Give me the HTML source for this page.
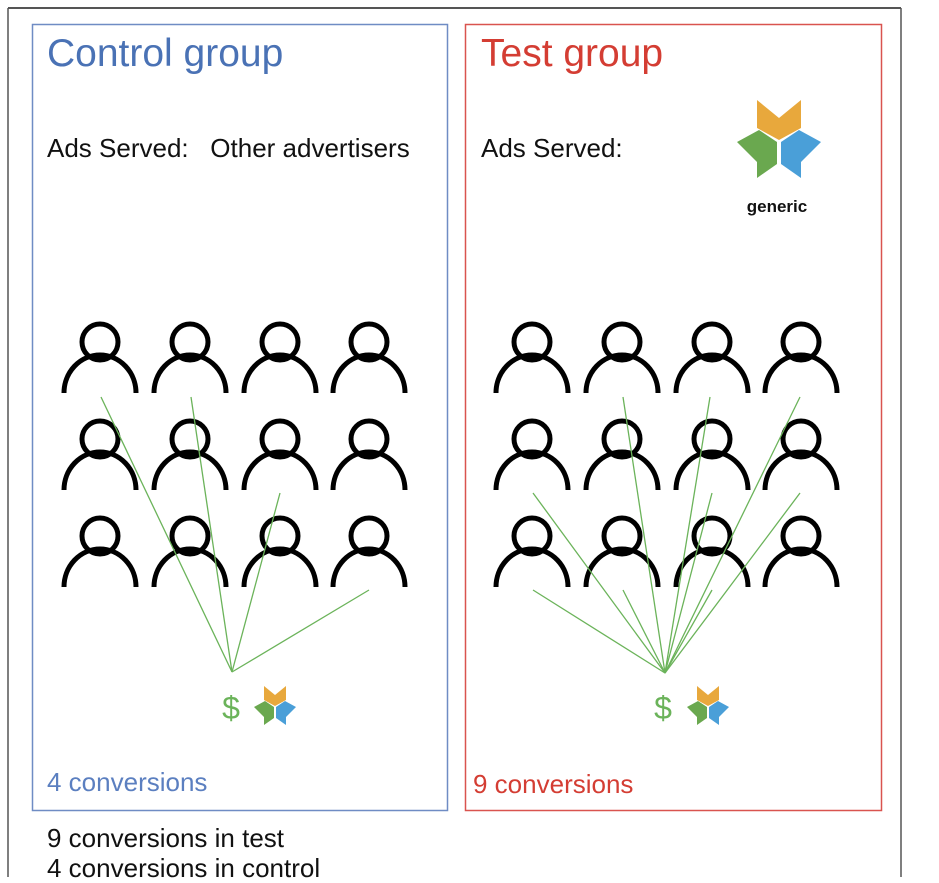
<!DOCTYPE html>
<html><head><style>
body{margin:0;background:#fff;width:939px;height:877px;overflow:hidden;position:relative;font-family:"Liberation Sans",Arial,sans-serif}
.t{position:absolute;white-space:nowrap}
</style></head><body>
<svg width="939" height="877" style="position:absolute;left:0;top:0">
<defs>
<g id="p" fill="none" stroke="#000" stroke-width="5">
<circle cx="0" cy="-51" r="18"/>
<path d="M-36 0 A36 38 0 0 1 36 0"/>
</g>
<g id="logo">
<polygon points="-22,-40 0,-22 22,-40 22,-12 0,0 -22,-12" fill="#e8a83c"/>
<polygon points="-2,2 -20,-10 -42,2 -22,22 -22,38 -2,24" fill="#6aa84f"/>
<polygon points="2,2 20,-10 42,2 22,22 22,38 2,24" fill="#4a9fd8"/>
</g>
</defs>
<line x1="8" y1="8" x2="901" y2="8" stroke="#555" stroke-width="2"/>
<line x1="8" y1="8" x2="8" y2="877" stroke="#555" stroke-width="1.5"/>
<line x1="901" y1="8" x2="901" y2="877" stroke="#555" stroke-width="1.5"/>
<rect x="32.5" y="24.5" width="415" height="786" fill="none" stroke="#6f8cc4" stroke-width="1.5"/>
<rect x="465.5" y="24.5" width="416" height="786" fill="none" stroke="#d9534f" stroke-width="1.5"/>
<g>
<use href="#p" x="100" y="393"/><use href="#p" x="190" y="393"/><use href="#p" x="280" y="393"/><use href="#p" x="369" y="393"/>
<use href="#p" x="100" y="490"/><use href="#p" x="190" y="490"/><use href="#p" x="280" y="490"/><use href="#p" x="369" y="490"/>
<use href="#p" x="100" y="587"/><use href="#p" x="190" y="587"/><use href="#p" x="280" y="587"/><use href="#p" x="369" y="587"/>
<use href="#p" x="532" y="393"/><use href="#p" x="622" y="393"/><use href="#p" x="712" y="393"/><use href="#p" x="801" y="393"/>
<use href="#p" x="532" y="490"/><use href="#p" x="622" y="490"/><use href="#p" x="712" y="490"/><use href="#p" x="801" y="490"/>
<use href="#p" x="532" y="587"/><use href="#p" x="622" y="587"/><use href="#p" x="712" y="587"/><use href="#p" x="801" y="587"/>
</g>
<g stroke="#6bb35a" stroke-width="1.3">
<line x1="232" y1="672" x2="101" y2="397"/><line x1="232" y1="672" x2="191" y2="397"/>
<line x1="232" y1="672" x2="280" y2="493"/><line x1="232" y1="672" x2="369" y2="590"/>
<line x1="665" y1="673" x2="623" y2="397"/><line x1="665" y1="673" x2="710" y2="397"/><line x1="665" y1="673" x2="800" y2="397"/>
<line x1="665" y1="673" x2="533" y2="493"/><line x1="665" y1="673" x2="712" y2="493"/><line x1="665" y1="673" x2="800" y2="493"/>
<line x1="665" y1="673" x2="533" y2="590"/><line x1="665" y1="673" x2="623" y2="590"/><line x1="665" y1="673" x2="712" y2="590"/>
</g>
<use href="#logo" transform="translate(779,140) scale(1)"/>
<use href="#logo" transform="translate(275,706) scale(0.5)"/>
<use href="#logo" transform="translate(708,706) scale(0.5)"/>
<text x="231" y="719" font-family="Liberation Sans" font-size="32" fill="#6bb35a" text-anchor="middle">$</text>
<text x="663" y="719" font-family="Liberation Sans" font-size="32" fill="#6bb35a" text-anchor="middle">$</text>
<text x="777" y="212" font-family="Liberation Sans" font-weight="bold" font-size="17" fill="#111" text-anchor="middle">generic</text>
</svg>
<div class="t" style="left:47px;top:32px;font-size:39px;color:#4a72b5">Control group</div>
<div class="t" style="left:481px;top:32px;font-size:39px;color:#d43d33">Test group</div>
<div class="t" style="left:47px;top:133px;font-size:26px;color:#111">Ads Served:&nbsp;&nbsp; Other advertisers</div>
<div class="t" style="left:481px;top:133px;font-size:26px;color:#111">Ads Served:</div>
<div class="t" style="left:47px;top:767px;font-size:26px;color:#5b7fc0">4 conversions</div>
<div class="t" style="left:473px;top:769px;font-size:26px;color:#d43d33">9 conversions</div>
<div class="t" style="left:47px;top:823px;font-size:26px;color:#111;line-height:30px">9 conversions in test<br>4 conversions in control</div>
</body></html>
